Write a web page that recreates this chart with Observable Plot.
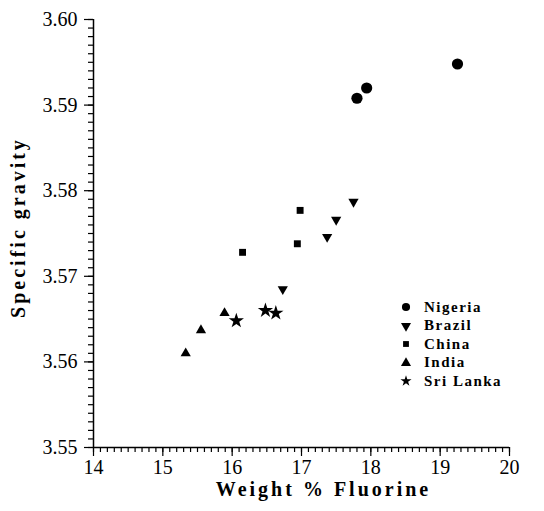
<!DOCTYPE html>
<html>
<head>
<meta charset="utf-8">
<script src="https://cdn.jsdelivr.net/npm/d3@7"></script>
<script src="https://cdn.jsdelivr.net/npm/@observablehq/plot@0.6"></script>
<style>
  html, body { margin: 0; padding: 0; background: #fff; }
  #wrap { position: relative; width: 544px; height: 511px; overflow: hidden; }
  #legend { position: absolute; left: 397px; top: 298px; font-family: "Liberation Serif", "Times New Roman", serif;
            font-size: 15px; font-weight: bold; letter-spacing: 1.5px; color: #000; }
  #legend .row { display: flex; align-items: center; height: 18.5px; }
  #legend svg { width: 18px; height: 18px; flex: none; }
  #legend span { margin-left: 9px; }
</style>
</head>
<body>
<div id="wrap"></div>
<script>
// ---- data ----
const countries = ["Nigeria", "Brazil", "China", "India", "Sri Lanka"];

const nigeriaFluorine = [19.25, 17.94, 17.80];
const nigeriaGravity  = [3.5948, 3.5920, 3.5908];

const brazilFluorine = [17.75, 17.50, 17.37, 16.73];
const brazilGravity  = [3.5787, 3.5766, 3.5746, 3.5685];

const chinaFluorine = [16.98, 16.94, 16.15];
const chinaGravity  = [3.5777, 3.5738, 3.5728];

const indiaFluorine = [15.33, 15.55, 15.89];
const indiaGravity  = [3.5610, 3.5637, 3.5657];

const sriLankaFluorine = [16.06, 16.48, 16.63];
const sriLankaGravity  = [3.5648, 3.5660, 3.5657];

const xTicks = [14, 15, 16, 17, 18, 19, 20];
const yTicks = [3.55, 3.56, 3.57, 3.58, 3.59, 3.60];
const xTitle = "Weight % Fluorine";
const yTitle = "Specific gravity";

// ---- build table ----
const series = [
  {country: "Nigeria", f: nigeriaFluorine, g: nigeriaGravity},
  {country: "Brazil", f: brazilFluorine, g: brazilGravity},
  {country: "China", f: chinaFluorine, g: chinaGravity},
  {country: "India", f: indiaFluorine, g: indiaGravity},
  {country: "Sri Lanka", f: sriLankaFluorine, g: sriLankaGravity}
];
const rows = series.flatMap(s => s.f.map((f, i) => ({country: s.country, fluorine: f, gravity: s.g[i]})));

// custom downward triangle
const sqrt3 = Math.sqrt(3);
const triangleDown = {
  draw(context, size) {
    const y = -Math.sqrt(size / (sqrt3 * 3));
    context.moveTo(0, -y * 2);
    context.lineTo(-sqrt3 * y, y);
    context.lineTo(sqrt3 * y, y);
    context.closePath();
  }
};

const style = {
  Nigeria:    {symbol: d3.symbolCircle,   r: 5.6, legendSize: 52},
  Brazil:     {symbol: triangleDown,      r: 3.8, legendSize: 44},
  China:      {symbol: d3.symbolSquare,   r: 3.9, legendSize: 34},
  India:      {symbol: d3.symbolTriangle, r: 3.8, legendSize: 44},
  "Sri Lanka":{symbol: d3.symbolStar,     r: 4.8, legendSize: 38}
};

const font = "'Liberation Serif', 'Times New Roman', serif";

const plot = Plot.plot({
  width: 544,
  height: 511,
  marginLeft: 93,
  marginRight: 35,
  marginTop: 19,
  marginBottom: 64,
  x: {domain: [14, 20], label: null},
  y: {domain: [3.55, 3.60], label: null},
  style: {fontFamily: font, color: "#000", background: "#fff"},
  marks: [
    // minor ticks
    Plot.axisX({interval: 0.1, tickSize: 5, tickFormat: () => "", label: null, strokeWidth: 1.2}),
    Plot.axisY({interval: 0.001, tickSize: 5, tickFormat: () => "", label: null, strokeWidth: 1.2}),
    // major ticks with labels
    Plot.axisX({ticks: xTicks, tickSize: 9, tickPadding: 3, fontSize: 20, label: null, tickFormat: d3.format("d"), strokeWidth: 1.2}),
    Plot.axisY({ticks: yTicks, tickSize: 9, tickPadding: 7, fontSize: 20, label: null, tickFormat: d3.format(".2f"), strokeWidth: 1.2}),
    // axis lines
    Plot.ruleX([14], {strokeWidth: 1.5}),
    Plot.ruleY([3.55], {strokeWidth: 1.5}),
    // points
    ...countries.map(c => Plot.dot(rows.filter(d => d.country === c), {
      x: "fluorine", y: "gravity", symbol: style[c].symbol, r: style[c].r, fill: "#000", stroke: "none"
    })),
    // axis titles
    Plot.text([xTitle], {text: d => d, frameAnchor: "bottom", textAnchor: "middle", dx: 22, dy: 48, fontSize: 20, fontWeight: "bold"}),
    Plot.text([yTitle], {text: d => d, frameAnchor: "left", textAnchor: "middle", rotate: -90, dx: -75, dy: -6, fontSize: 20, fontWeight: "bold"})
  ]
});

d3.select(plot).selectAll("text").filter(function() {
  const t = this.textContent;
  return t === xTitle || t === yTitle;
}).style("letter-spacing", "3px");

const wrap = document.getElementById("wrap");
wrap.appendChild(plot);

// legend overlay inside the plot area
const legend = document.createElement("div");
legend.id = "legend";
countries.forEach(c => {
  const row = document.createElement("div");
  row.className = "row";
  const svg = d3.create("svg").attr("viewBox", "-9 -9 18 18");
  svg.append("path").attr("d", d3.symbol(style[c].symbol, style[c].legendSize)()).attr("fill", "#000");
  row.appendChild(svg.node());
  const span = document.createElement("span");
  span.textContent = c;
  row.appendChild(span);
  legend.appendChild(row);
});
wrap.appendChild(legend);
</script>
</body>
</html>
